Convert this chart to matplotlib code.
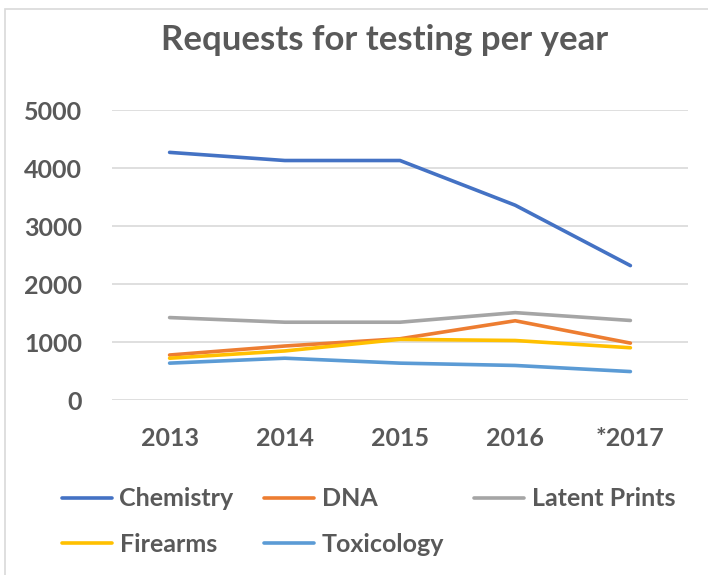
import matplotlib
matplotlib.use('Agg')
import matplotlib.pyplot as plt
from matplotlib.patches import Rectangle

plt.rcParams['font.family'] = ['Lato', 'DejaVu Sans']

years = ['2013', '2014', '2015', '2016', '*2017']
chemistry = [4270, 4130, 4130, 3360, 2320]
dna = [780, 935, 1060, 1370, 985]
latent_prints = [1425, 1345, 1345, 1510, 1375]
firearms = [725, 850, 1050, 1030, 905]
toxicology = [640, 725, 640, 600, 495]

series = [
    ('Chemistry', chemistry, '#4472C4'),
    ('DNA', dna, '#ED7D31'),
    ('Latent Prints', latent_prints, '#A5A5A5'),
    ('Firearms', firearms, '#FFC000'),
    ('Toxicology', toxicology, '#5B9BD5'),
]

TEXT = '#595959'
GRID = '#D9D9D9'

fig = plt.figure(figsize=(7.08, 5.75), dpi=100)
W, H = 708, 575

# chart frame (light border, cut at right/bottom like the screenshot)
fig.patches.append(Rectangle((5 / W, -0.1), 1.2, 1 - 9 / H + 0.1,
                             transform=fig.transFigure, fill=False,
                             edgecolor=GRID, linewidth=1.2))

ax = fig.add_axes([112 / W, 1 - 400.3 / H, 576 / W, 290.3 / H])
x = range(len(years))
lines = {}
for name, vals, color in series:
    lines[name], = ax.plot(x, vals, color=color, linewidth=2.6,
                           solid_capstyle='round', solid_joinstyle='round',
                           label=name, zorder=3)

ax.set_xlim(-0.5, len(years) - 0.5)
ax.set_ylim(0, 5000)
ax.set_yticks(range(0, 5001, 1000))
ax.set_xticks(list(x))
ax.set_xticklabels(years)
ax.grid(axis='y', color=GRID, linewidth=1.2, zorder=0)
for s in ax.spines.values():
    s.set_visible(False)
ax.tick_params(length=0, colors=TEXT, labelsize=18)
ax.tick_params(axis='y', pad=21.5)
ax.tick_params(axis='x', pad=19.5)
for lab in ax.get_xticklabels() + ax.get_yticklabels():
    lab.set_fontweight('bold')
    lab.set_color(TEXT)

fig.text(384.5 / W, 1 - 40 / H, 'Requests for testing per year', ha='center',
         va='center', fontsize=25, fontweight='bold', color=TEXT)

order = ['Chemistry', 'Firearms', 'DNA', 'Toxicology', 'Latent Prints']
leg = fig.legend([lines[n] for n in order], order, ncol=3, frameon=False,
                 loc='upper left', bbox_to_anchor=(39 / W, 1 - 465 / H),
                 handlelength=2.0, handletextpad=0.32, columnspacing=1.2,
                 labelspacing=0.9, prop={'weight': 'bold', 'size': 18})
for t in leg.get_texts():
    t.set_color(TEXT)

fig.savefig('out.png', dpi=100)
